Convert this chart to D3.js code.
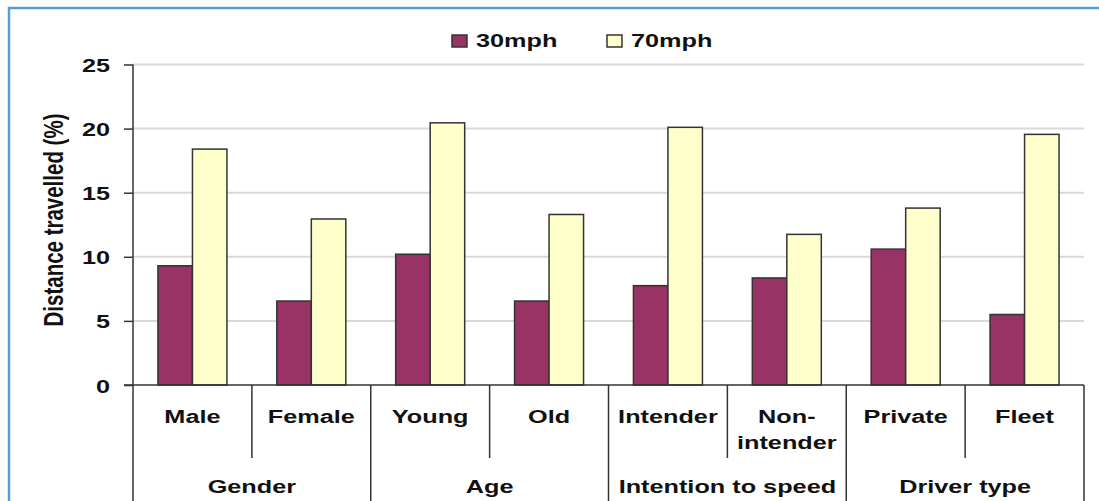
<!DOCTYPE html>
<html>
<head>
<meta charset="utf-8">
<script src="https://cdn.jsdelivr.net/npm/d3@7"></script>
<style>
  html, body { margin: 0; padding: 0; background: #fff; }
  svg { display: block; }
  text { font-family: "Liberation Sans", Arial, sans-serif; fill: #111; }
</style>
</head>
<body>
<svg id="chart" width="1099" height="501"></svg>
<script>
// Data
const groups = ["Gender", "Age", "Intention to speed", "Driver type"];
const categories = ["Male", "Female", "Young", "Old", "Intender", "Non-intender", "Private", "Fleet"];
const categoryLabels = [["Male"], ["Female"], ["Young"], ["Old"], ["Intender"], ["Non-", "intender"], ["Private"], ["Fleet"]];
const seriesNames = ["30mph", "70mph"];
const values30 = [9.3, 6.55, 10.2, 6.55, 7.75, 8.35, 10.6, 5.5];
const values70 = [18.4, 12.95, 20.45, 13.3, 20.1, 11.75, 13.8, 19.55];
const yTicks = [0, 5, 10, 15, 20, 25];

const colors = { "30mph": "#993366", "70mph": "#ffffcc" };
const SX = 1.33; // the source text is stretched horizontally

const svg = d3.select("#chart");

// outer frame (blue border, cropped at bottom/right)
svg.append("path")
    .attr("d", "M9,501 L9,8 L1099,8")
    .attr("fill", "none")
    .attr("stroke", "#5b9bd5")
    .attr("stroke-width", 2.5);

const plotLeft = 133, plotRight = 1084, plotTop = 64.5, zeroY = 385;

const y = d3.scaleLinear().domain([0, 25]).range([zeroY, plotTop]);
const x0 = d3.scaleBand().domain(categories).range([plotLeft, plotRight]).paddingInner(0).paddingOuter(0);
const x1 = d3.scaleBand().domain(seriesNames).range([0, x0.bandwidth()]).paddingInner(0).paddingOuter(0.723);

function stretched(sel, x, yPos, anchor) {
    return sel.attr("transform", `translate(${x},${yPos}) scale(${SX},1)`)
        .attr("text-anchor", anchor);
}

// gridlines
svg.append("g").selectAll("line")
    .data(yTicks.filter(d => d > 0))
    .join("line")
    .attr("x1", plotLeft).attr("x2", plotRight)
    .attr("y1", d => y(d)).attr("y2", d => y(d))
    .attr("stroke", "#d9d9d9")
    .attr("stroke-width", 2);

// bars
const rows = categories.map((c, i) => ({ cat: c, vals: [values30[i], values70[i]] }));
const barG = svg.append("g").selectAll("g")
    .data(rows)
    .join("g")
    .attr("transform", d => `translate(${x0(d.cat)},0)`);

barG.selectAll("rect")
    .data(d => seriesNames.map((s, j) => ({ s, v: d.vals[j] })))
    .join("rect")
    .attr("x", d => x1(d.s))
    .attr("width", x1.bandwidth())
    .attr("y", d => y(d.v))
    .attr("height", d => zeroY - y(d.v))
    .attr("fill", d => colors[d.s])
    .attr("stroke", "#333")
    .attr("stroke-width", 1.5);

// y axis
const axisG = svg.append("g").attr("transform", `translate(${plotLeft},0)`)
    .call(d3.axisLeft(y).tickValues(yTicks).tickSize(9).tickPadding(14).tickFormat(d3.format("d")));
axisG.select(".domain").remove();
axisG.selectAll(".tick line").attr("stroke", "#333").attr("stroke-width", 1.5);
axisG.selectAll(".tick text").remove();
axisG.selectAll(".tick").append("text")
    .text(d => d)
    .style("font-size", "19px")
    .style("font-weight", "bold")
    .each(function () { stretched(d3.select(this), -23, 7, "end"); });

// axis lines
svg.append("line")
    .attr("x1", plotLeft).attr("x2", plotLeft).attr("y1", plotTop).attr("y2", 501)
    .attr("stroke", "#333").attr("stroke-width", 1.5);
svg.append("line")
    .attr("x1", plotLeft - 9).attr("x2", plotRight).attr("y1", zeroY).attr("y2", zeroY)
    .attr("stroke", "#333").attr("stroke-width", 1.5);

// category dividers (short) and group dividers (long)
const boundaries = d3.range(1, categories.length + 1);
svg.append("g").selectAll("line")
    .data(boundaries)
    .join("line")
    .attr("x1", i => plotLeft + i * x0.step())
    .attr("x2", i => plotLeft + i * x0.step())
    .attr("y1", zeroY)
    .attr("y2", i => i % 2 === 0 ? 501 : 458)
    .attr("stroke", "#333")
    .attr("stroke-width", 1.5);

// category labels
svg.append("g").selectAll("text")
    .data(categories)
    .join("text")
    .style("font-size", "19px")
    .style("font-weight", "bold")
    .each(function (c, i) {
        const t = d3.select(this);
        stretched(t, x0(c) + x0.bandwidth() / 2, 423, "middle");
        categoryLabels[i].forEach((line, k) => {
            t.append("tspan").attr("x", 0).attr("y", k * 26).text(line);
        });
    });

// group labels
svg.append("g").selectAll("text")
    .data(groups)
    .join("text")
    .style("font-size", "19px")
    .style("font-weight", "bold")
    .text(d => d)
    .each(function (g, i) {
        const cx = plotLeft + (i * 2 + 1) * x0.step();
        stretched(d3.select(this), cx, 493, "middle");
    });

// y axis title
svg.append("text")
    .attr("transform", `translate(63,220) scale(${SX},1) rotate(-90)`)
    .attr("text-anchor", "middle")
    .style("font-size", "20.5px")
    .style("font-weight", "bold")
    .text("Distance travelled (%)");

// legend
const legendX = [452, 607];
const legend = svg.append("g").selectAll("g")
    .data(seriesNames)
    .join("g")
    .attr("transform", (d, i) => `translate(${legendX[i]},35)`);
legend.append("rect")
    .attr("width", 15).attr("height", 12)
    .attr("fill", d => colors[d])
    .attr("stroke", "#333").attr("stroke-width", 1.5);
legend.append("text")
    .text(d => d)
    .style("font-size", "19px")
    .style("font-weight", "bold")
    .each(function () { stretched(d3.select(this), 24, 12, "start"); });
</script>
</body>
</html>
